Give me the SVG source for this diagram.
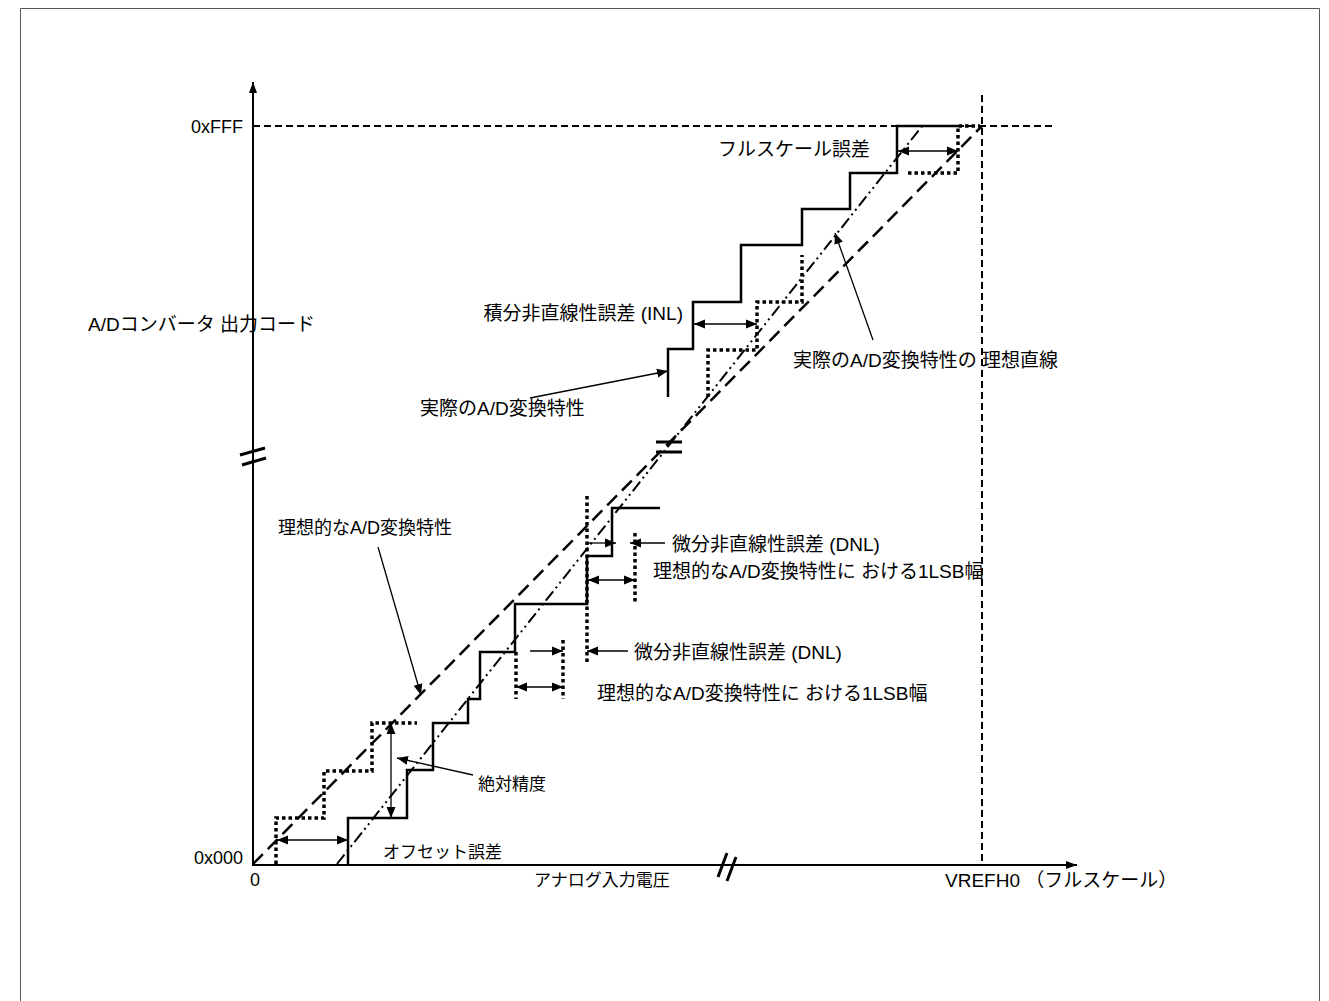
<svg xmlns="http://www.w3.org/2000/svg" width="1329" height="1001" viewBox="0 0 1329 1001">
<style>
text{font-family:"Liberation Sans","Noto Sans CJK JP",sans-serif;font-size:19px;fill:#000}
.sm{font-size:17px}
.md{font-size:18px}
.ax{stroke:#000;stroke-width:2;fill:none}
.st{stroke:#000;stroke-width:2.5;fill:none}
.dt{stroke:#000;stroke-width:3.5;fill:none;stroke-dasharray:3.5 3}
.id{stroke:#000;stroke-width:2.5;fill:none;stroke-dasharray:14 7}
.ddl{stroke:#000;stroke-width:2;fill:none;stroke-dasharray:12 4 2 4 2 4}
.gd{stroke:#000;stroke-width:2;fill:none;stroke-dasharray:7 4}
.brk{stroke:#000;stroke-width:3;fill:none}
.ar{stroke:#000;stroke-width:1.3;fill:none;marker-end:url(#ah)}
.da{stroke:#000;stroke-width:1.3;fill:none;marker-start:url(#ah);marker-end:url(#ah)}
</style>
<defs>
<marker id="ah" markerUnits="userSpaceOnUse" markerWidth="12" markerHeight="10" refX="11" refY="5" orient="auto-start-reverse"><path d="M0,0.5 L11,5 L0,9.5 z" fill="#000"/></marker>
<marker id="axh" markerUnits="userSpaceOnUse" markerWidth="12" markerHeight="10" refX="11" refY="5" orient="auto"><path d="M0,1 L11,5 L0,9 z" fill="#000"/></marker>
</defs>
<rect x="0" y="0" width="1329" height="1001" fill="#fff"/>
<path d="M20.5,1001 V8.5 H1319.5 V1001" stroke="#555" stroke-width="1" fill="none"/>

<g id="plot">
<line class="gd" x1="253" y1="126" x2="1055" y2="126"/>
<line class="gd" x1="982" y1="95" x2="982" y2="864"/>
<line class="id" x1="253" y1="864" x2="982" y2="126"/>
<line class="ddl" x1="337" y1="864" x2="923" y2="125"/>
<polyline class="dt" points="276,864 276,818 324,818 324,771 372,771 372,723 417,723"/>
<polyline class="dt" points="708,397 708,350 757,350 757,302 802,302 802,255"/>
<polyline class="dt" points="908,173 958,173 958,126 980,126"/>
<line class="dt" x1="587" y1="496" x2="587" y2="662"/>
<line class="dt" x1="635" y1="533" x2="635" y2="604"/>
<line class="dt" x1="516" y1="652" x2="516" y2="699"/>
<line class="dt" x1="563" y1="640" x2="563" y2="699"/>
<polyline class="st" points="348,864 348,818 407,818 407,770 433,770 433,723 468,723 468,699 480,699 480,652 515,652 515,604 587,604 587,556 612,556 612,508 660,508"/>
<polyline class="st" points="668,397 668,349 693,349 693,302 741,302 741,245 802,245 802,209 850,209 850,173 897,173 897,126 958,126"/>
<line class="brk" x1="656" y1="442" x2="682" y2="442"/>
<line class="brk" x1="656" y1="452" x2="682" y2="452"/>
</g>

<g id="axes">
<line class="ax" x1="253" y1="865" x2="253" y2="82" marker-end="url(#axh)"/>
<line class="ax" x1="252" y1="865" x2="1077" y2="865" marker-end="url(#axh)"/>
<line class="brk" x1="240" y1="455" x2="265" y2="448"/>
<line class="brk" x1="242" y1="465" x2="266" y2="458"/>
<line class="brk" x1="718" y1="877" x2="727" y2="853"/>
<line class="brk" x1="727" y1="881" x2="736" y2="857"/>
</g>

<g id="connectors">
<line class="da" x1="898" y1="151" x2="958" y2="151"/>
<line class="da" x1="694" y1="324" x2="757" y2="324"/>
<line class="ar" x1="530" y1="398" x2="668" y2="371"/>
<line class="ar" x1="873" y1="340" x2="835" y2="233"/>
<line class="ar" x1="588" y1="543" x2="616" y2="543"/>
<line class="ar" x1="665" y1="543" x2="630" y2="543"/>
<line class="da" x1="588" y1="580" x2="635" y2="580"/>
<line class="ar" x1="530" y1="651" x2="563" y2="651"/>
<line class="ar" x1="628" y1="651" x2="587" y2="651"/>
<line class="da" x1="516" y1="687" x2="563" y2="687"/>
<line class="ar" x1="378" y1="547" x2="421" y2="695"/>
<line class="da" x1="391" y1="723" x2="391" y2="818"/>
<line class="ar" x1="473" y1="775" x2="397" y2="758"/>
<line class="da" x1="277" y1="840" x2="348" y2="840"/>
</g>

<g id="label-0xfff"><text class="md" x="243" y="133" text-anchor="end">0xFFF</text></g>
<g id="label-0x000"><text class="md" x="243" y="864" text-anchor="end">0x000</text></g>
<g id="label-zero"><text class="md" x="250" y="886">0</text></g>
<g id="label-yaxis"><text x="88" y="331">A/Dコンバータ 出力コード</text></g>
<g id="label-xaxis"><text class="sm" x="534" y="886">アナログ入力電圧</text></g>
<g id="label-vref"><text x="945" y="887">VREFH0 （フルスケール）</text></g>
<g id="label-fs"><text x="718" y="156">フルスケール誤差</text></g>
<g id="label-inl"><text x="683" y="320" text-anchor="end">積分非直線性誤差 (INL)</text></g>
<g id="label-actual-ideal"><text x="793" y="367">実際のA/D変換特性の 理想直線</text></g>
<g id="label-actual"><text x="420" y="415">実際のA/D変換特性</text></g>
<g id="label-ideal"><text class="md" x="278" y="534">理想的なA/D変換特性</text></g>
<g id="label-dnl1"><text x="672" y="551">微分非直線性誤差 (DNL)</text></g>
<g id="label-lsb1"><text x="653" y="578">理想的なA/D変換特性に おける1LSB幅</text></g>
<g id="label-dnl2"><text x="634" y="659">微分非直線性誤差 (DNL)</text></g>
<g id="label-lsb2"><text x="597" y="700">理想的なA/D変換特性に おける1LSB幅</text></g>
<g id="label-abs"><text class="sm" x="478" y="790">絶対精度</text></g>
<g id="label-offset"><text class="sm" x="383" y="858">オフセット誤差</text></g>
</svg>
